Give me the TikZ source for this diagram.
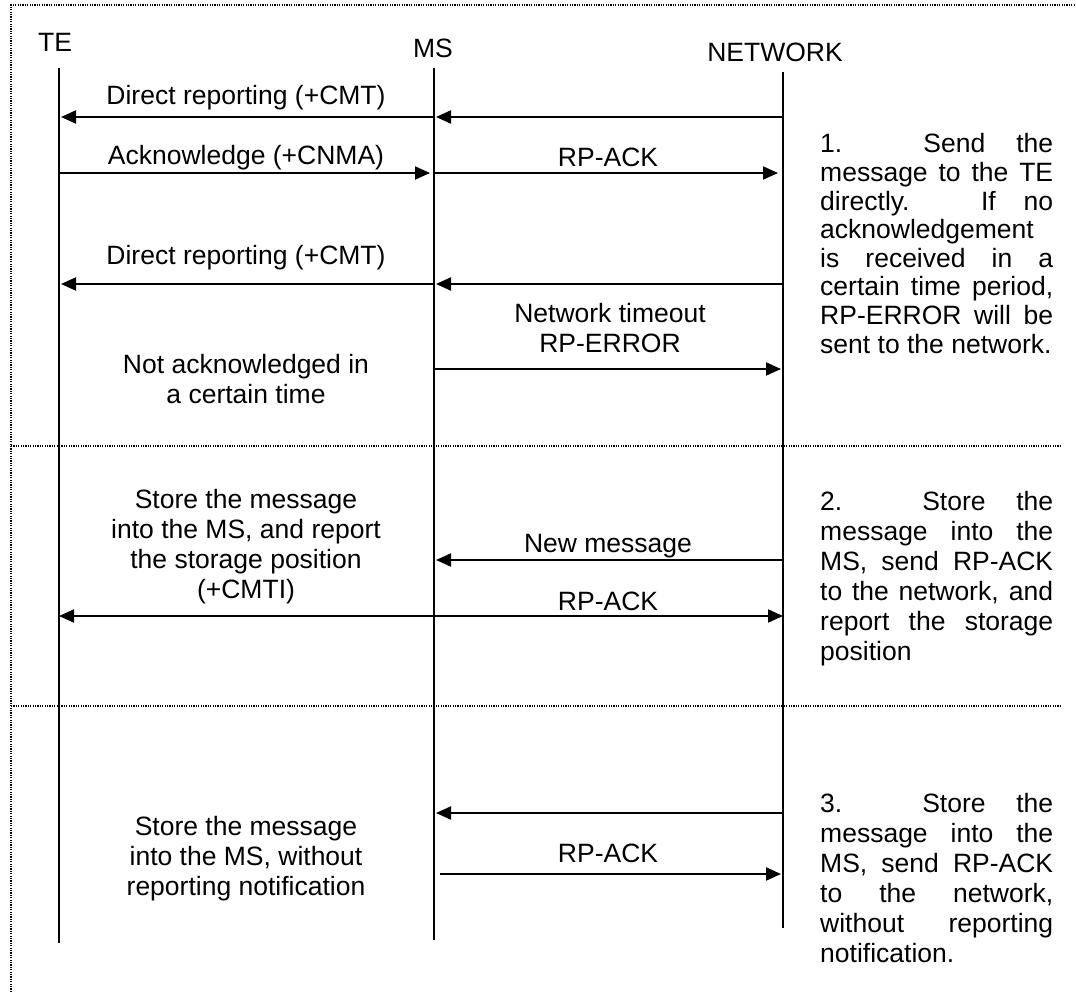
\documentclass[tikz,border=0pt]{standalone}
\usepackage{fontspec}
\setmainfont{Liberation Sans}
\usetikzlibrary{arrows.meta}
\tikzset{
		lifeline/.style={line width=2pt},
		msg/.style={line width=2pt, -{Triangle[length=15pt,width=13pt]}, shorten >=2pt},
		dmsg/.style={line width=2pt, {Triangle[length=15pt,width=13pt]}-{Triangle[length=15pt,width=13pt]}},
		frame line/.style={line width=1.3pt, dash pattern=on 1.2pt off 1.2pt},
		head/.style={anchor=base, inner sep=0pt},
		label/.style={anchor=base, inner sep=0pt, align=center},
		note/.style={anchor=base west, inner sep=0pt, align=left}
	}
\newcommand{\fillline}[1]{\makebox[233pt][s]{#1}}

\begin{document}
\begin{tikzpicture}[x=1pt,y=-1pt,font=\fontsize{26.5}{30}\selectfont]
				\useasboundingbox (0,0) rectangle (1076,992);
				\draw[frame line] (11,992) -- (11,5) -- (1076,5);
				\draw[frame line] (11,446) -- (1062,446);
				\draw[frame line] (11,706) -- (1062,706);

				\node[head] (te)  at (55,52)  {TE};
				\node[head] (ms)  at (433,58) {MS};
				\node[head] (net) at (775,62) {NETWORK};

				\coordinate (teTop)  at (59,68);  \coordinate (teBot)  at (59,943);
				\coordinate (msTop)  at (434,68); \coordinate (msBot)  at (434,940);
				\coordinate (netTop) at (783,72); \coordinate (netBot) at (783,928);
				\draw[lifeline] (teTop) -- (teBot);
				\draw[lifeline] (msTop) -- (msBot);
				\draw[lifeline] (netTop) -- (netBot);

				\coordinate (r1) at (0,117); \coordinate (r2) at (0,173);
				\coordinate (r3) at (0,284); \coordinate (r4) at (0,369);
				\coordinate (r5) at (0,560); \coordinate (r6) at (0,616);
				\coordinate (r7) at (0,813); \coordinate (r8) at (0,874);

				\draw[msg] (netTop |- r1) -- (msTop |- r1);
				\draw[msg] (msTop |- r1) -- (teTop |- r1);
				\draw[msg, shorten >=4pt] (teTop |- r2) -- (msTop |- r2);
				\draw[msg, shorten >=5pt] (msTop |- r2) -- (netTop |- r2);
				\draw[msg] (netTop |- r3) -- (msTop |- r3);
				\draw[msg] (msTop |- r3) -- (teTop |- r3);
				\draw[msg] (msTop |- r4) -- (netTop |- r4);
				\draw[msg] (netTop |- r5) -- (msTop |- r5);
				\draw[dmsg] (teTop |- r6) -- (netTop |- r6);
				\draw[msg] (netTop |- r7) -- (msTop |- r7);
				\draw[msg, shorten <=6pt] (msTop |- r8) -- (netTop |- r8);

				% multi-line nodes: base = baseline of the last line
				\node[label] (cmt1)  at (246,105) {Direct reporting (+CMT)};
				\node[label] (cnma)  at (246,165) {Acknowledge (+CNMA)};
				\node[label] (ack1)  at (608,167) {RP-ACK};
				\node[label] (cmt2)  at (246,265) {Direct reporting (+CMT)};
				\node[label] (err)   at (610,352) {Network timeout\\RP-ERROR};
				\node[label] (noack) at (246,403) {Not acknowledged in\\a certain time};
				\node[label] (cmti)  at (246,598) {Store the message\\into the MS, and report\\the storage position\\(+CMTI)};
				\node[label] (new)   at (608,552) {New message};
				\node[label] (ack2)  at (608,610) {RP-ACK};
				\node[label] (store) at (246,895) {Store the message\\into the MS, without\\reporting notification};
				\node[label] (ack3)  at (608,862) {RP-ACK};

				\node[note, font=\fontsize{26.5}{28.6}\selectfont] (case1) at (820,353)
					{\fillline{1. Send the}\\\fillline{message to the TE}\\\fillline{directly. If no}\\acknowledgement\\
					 \fillline{is received in a}\\\fillline{certain time period,}\\\fillline{RP-ERROR will be}\\sent to the network.};
				\node[note] (case2) at (820,660)
					{\fillline{2. Store the}\\\fillline{message into the}\\\fillline{MS, send RP-ACK}\\\fillline{to the network, and}\\
					 \fillline{report the storage}\\position};
				\node[note] (case3) at (820,962)
					{\fillline{3. Store the}\\\fillline{message into the}\\\fillline{MS, send RP-ACK}\\\fillline{to the network,}\\
					 \fillline{without reporting}\\notification.};
			\end{tikzpicture}
\end{document}
